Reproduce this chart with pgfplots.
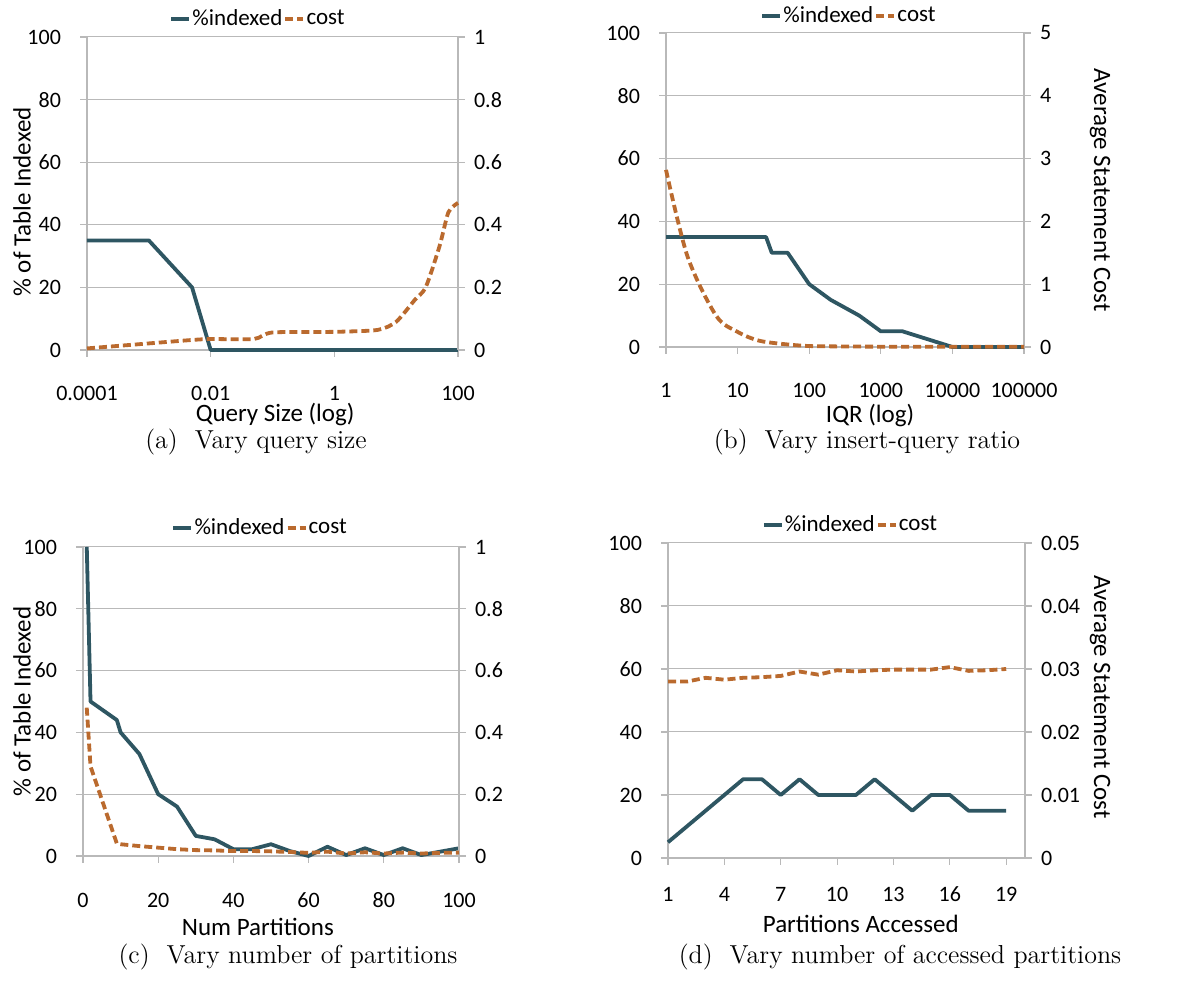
\documentclass[border=0pt]{standalone}
\usepackage{pgfplots}
\pgfplotsset{compat=1.18}
\usepackage{fontspec}
\newfontfamily\calibri{Carlito}

\definecolor{idxcol}{RGB}{46,86,98}
\definecolor{costcol}{RGB}{186,106,46}
\definecolor{gridcol}{RGB}{185,185,185}

\pgfplotsset{
  base/.style={
    scale only axis, clip=false, scaled ticks=false,
    xminorticks=false, yminorticks=false,
    axis line style={gridcol, line width=0.6pt},
    tick style={gridcol, line width=0.6pt},
    tick align=outside, major tick length=3.5pt,
    tick label style={font=\calibri\fontsize{11}{13}\selectfont, text=black},
    label style={font=\calibri\fontsize{12.5}{14}\selectfont},
  },
  leftax/.style={
    base, axis y line*=left, axis x line*=bottom,
    ymin=0, ymax=100, ytick={0,20,...,100}, yticklabels={0,20,40,60,80,100},
    ymajorgrids, grid style={gridcol, line width=0.5pt},
    yticklabel style={anchor=east, xshift=-6pt},
  },
  rightax/.style={
    base, axis y line*=right, axis x line=none,
    yticklabel style={anchor=west, xshift=1pt},
    legend columns=2,
    legend style={draw=none, fill=none, anchor=center,
      font=\calibri\fontsize{11.5}{13}\selectfont,
      nodes={inner sep=0.6pt},
      /tikz/every even column/.append style={column sep=0pt},
      /tikz/every odd column/.append style={column sep=0pt}},
    legend image code/.code={\draw[##1] (0pt,0pt) -- (9pt,0pt);},
  },
  idx/.style={idxcol, line width=1.9pt, line join=round},
  cst/.style={costcol, line width=1.9pt, dash pattern=on 4pt off 2pt},
}

\begin{document}
\begin{tikzpicture}
\useasboundingbox (0,0) rectangle (590pt,494.5pt);

% ---------------- (a) query size ----------------
\begin{axis}[leftax, at={(43.5pt,319.5pt)}, anchor=south west,
  width=185.5pt, height=156.5pt,
  xmode=log, xmin=1e-4, xmax=100,
  xtick={1e-4,1e-2,1,100}, xticklabels={0.0001,0.01,1,100},
  xticklabel style={anchor=center, yshift=-18pt},
  xlabel={Query Size (log)},
  xlabel style={at={(axis description cs:0.507,0)}, anchor=center, yshift=-32.5pt},
  ylabel={\% of Table Indexed},
  ylabel style={at={(axis description cs:0,0.473)}, anchor=center, yshift=32.5pt}]
\addplot[idx] coordinates {(1e-4,35)(5e-4,35)(1e-3,35)(5e-3,20)(1e-2,0)(5e-2,0)(0.1,0)(0.5,0)(1,0)(5,0)(10,0)(50,0)(100,0)};
\end{axis}
\begin{axis}[rightax, at={(43.5pt,319.5pt)}, anchor=south west,
  width=185.5pt, height=156.5pt,
  xmode=log, xmin=1e-4, xmax=100,
  ymin=0, ymax=1, ytick={0,0.2,...,1}, yticklabels={0,0.2,0.4,0.6,0.8,1},
  legend style={at={(0.46,1)}, yshift=9pt}]
\addlegendimage{idx}\addlegendentry{\%indexed}
\addplot[cst, smooth, tension=0.4] coordinates {(1e-4,0.005)(1e-3,0.021)(5e-3,0.032)(1e-2,0.035)(5e-2,0.035)(1e-1,0.056)(1,0.058)(5,0.064)(10,0.09)(20,0.16)(30,0.2)(50,0.33)(70,0.44)(100,0.47)};
\addlegendentry{cost}
\end{axis}

% ---------------- (b) insert-query ratio ----------------
\begin{axis}[leftax, at={(333pt,321pt)}, anchor=south west,
  width=179pt, height=157pt,
  xmode=log, xmin=1, xmax=100000,
  xtick={1,10,100,1000,10000,100000}, xticklabels={1,10,100,1000,10000,100000},
  xticklabel style={anchor=center, yshift=-18pt},
  xlabel={IQR (log)},
  xlabel style={at={(axis description cs:0.57,0)}, anchor=center, yshift=-34.5pt}]
\addplot[idx] coordinates {(1,35)(2,35)(5,35)(10,35)(25,35)(30,30)(50,30)(100,20)(200,15)(500,10)(1000,5)(2000,5)(10000,0)(20000,0)(50000,0)(100000,0)};
\end{axis}
\begin{axis}[rightax, at={(333pt,321pt)}, anchor=south west,
  width=179pt, height=157pt,
  xmode=log, xmin=1, xmax=100000,
  ymin=0, ymax=5, ytick={0,1,...,5}, yticklabels={0,1,2,3,4,5},
  ylabel={Average Statement Cost},
  ylabel style={at={(axis description cs:1,0.5)}, anchor=center, rotate=180, yshift=38pt},
  legend style={at={(0.51,1)}, yshift=8.5pt}]
\addlegendimage{idx}\addlegendentry{\%indexed}
\addplot[cst, smooth] coordinates {(1,2.82)(2,1.44)(5,0.5)(10,0.24)(20,0.1)(50,0.04)(100,0.015)(200,0.01)(1000,0.005)(10000,0.005)(100000,0.005)};
\addlegendentry{cost}
\end{axis}

% ---------------- (c) number of partitions ----------------
\begin{axis}[leftax, at={(41.5pt,66.5pt)}, anchor=south west,
  width=188pt, height=154.5pt,
  xmin=0, xmax=100,
  xtick={0,20,...,100}, xticklabels={0,20,40,60,80,100},
  xticklabel style={anchor=center, yshift=-18.5pt},
  xlabel={Num Partitions},
  xlabel style={at={(axis description cs:0.465,0)}, anchor=center, yshift=-35.5pt},
  ylabel={\% of Table Indexed},
  ylabel style={at={(axis description cs:0,0.5)}, anchor=center, yshift=30.5pt}]
\addplot[idx] coordinates {(1,100)(2,50)(9,44)(10,40)(15,33)(20,20)(25,16)(30,6.5)(35,5.4)(40,2.2)(45,2.2)(50,3.8)(55,1.6)(60,0)(65,3)(70,0.3)(75,2.5)(80,0.3)(85,2.5)(90,0.3)(95,1.4)(100,2.5)};
\end{axis}
\begin{axis}[rightax, at={(41.5pt,66.5pt)}, anchor=south west,
  width=188pt, height=154.5pt,
  xmin=0, xmax=100,
  ymin=0, ymax=1, ytick={0,0.2,...,1}, yticklabels={0,0.2,0.4,0.6,0.8,1},
  legend style={at={(0.47,1)}, yshift=9.5pt}]
\addlegendimage{idx}\addlegendentry{\%indexed}
\addplot[cst] coordinates {(1,0.48)(2,0.29)(9,0.04)(10,0.038)(15,0.032)(20,0.027)(25,0.022)(30,0.019)(35,0.018)(40,0.016)(45,0.016)(50,0.015)(55,0.013)(60,0.01)(65,0.014)(70,0.008)(75,0.012)(80,0.008)(85,0.011)(90,0.008)(95,0.01)(100,0.011)};
\addlegendentry{cost}
\end{axis}

% ---------------- (d) accessed partitions ----------------
\begin{axis}[leftax, at={(334pt,65.5pt)}, anchor=south west,
  width=178.5pt, height=157.5pt,
  xmin=1, xmax=20,
  xtick={1,4,...,19}, xticklabels={1,4,7,10,13,16,19},
  xticklabel style={anchor=center, yshift=-14.5pt},
  xlabel={Partitions Accessed},
  xlabel style={at={(axis description cs:0.54,0)}, anchor=center, yshift=-33pt}]
\addplot[idx] coordinates {(1,5)(2,10)(3,15)(4,20)(5,25)(6,25)(7,20)(8,25)(9,20)(10,20)(11,20)(12,25)(13,20)(14,15)(15,20)(16,20)(17,15)(18,15)(19,15)};
\end{axis}
\begin{axis}[rightax, at={(334pt,65.5pt)}, anchor=south west,
  width=178.5pt, height=157.5pt,
  xmin=1, xmax=20,
  ymin=0, ymax=0.05, ytick={0,0.01,...,0.05}, yticklabels={0,0.01,0.02,0.03,0.04,0.05},
  ylabel={Average Statement Cost},
  ylabel style={at={(axis description cs:1,0.511)}, anchor=center, rotate=180, yshift=37.5pt},
  legend style={at={(0.51,1)}, yshift=9pt}]
\addlegendimage{idx}\addlegendentry{\%indexed}
\addplot[cst] coordinates {(1,0.028)(2,0.028)(3,0.0286)(4,0.0283)(5,0.0286)(6,0.0287)(7,0.0289)(8,0.0296)(9,0.0291)(10,0.0298)(11,0.0296)(12,0.0298)(13,0.0299)(14,0.0299)(15,0.0299)(16,0.0303)(17,0.0297)(18,0.0298)(19,0.030)};
\addlegendentry{cost}
\end{axis}

% ---------------- sub-captions ----------------
\begin{scope}[every node/.style={font=\fontsize{13}{15}\selectfont, anchor=center}]
\node at (128pt,273.5pt) {(a)~~Vary query size};
\node at (433.5pt,273.5pt) {(b)~~Vary insert-query ratio};
\node at (144pt,16pt) {(c)~~Vary number of partitions};
\node at (450pt,16pt) {(d)~~Vary number of accessed partitions};
\end{scope}
\end{tikzpicture}
\end{document}
